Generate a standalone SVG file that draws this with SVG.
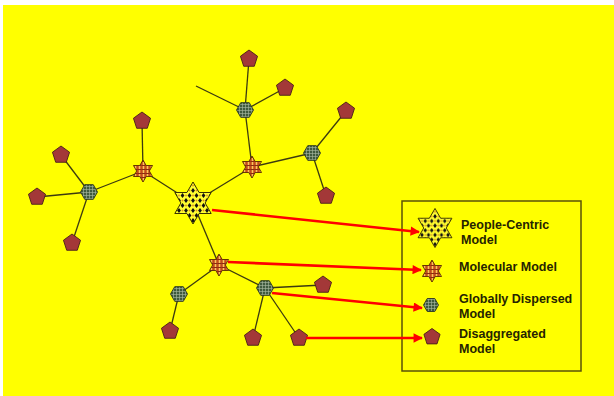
<svg xmlns="http://www.w3.org/2000/svg" xmlns:xlink="http://www.w3.org/1999/xlink" width="614" height="396" viewBox="0 0 614 396">
  <style>
    .edge { stroke: #3c3a10; stroke-width: 1.3; fill: none; }
    .ptr { stroke: #ff0000; stroke-width: 2.6; fill: none; marker-end: url(#head); }
    .people { fill: url(#diamonds); stroke: #3a3300; stroke-width: 1; }
    .mol { fill: url(#plaid); stroke: #5a2a00; stroke-width: 0.9; }
    .glob { fill: url(#grid); stroke: #2a3620; stroke-width: 0.9; }
    .dis { fill: #a33838; stroke: #4a2018; stroke-width: 0.9; }
    .lbl { font-family: "Liberation Sans", Arial, sans-serif; font-weight: bold; font-size: 12.5px; fill: #262400; }
  </style>
  <defs>
    <!-- yellow field with staggered black diamonds -->
    <pattern id="diamonds" patternUnits="userSpaceOnUse" width="7" height="10">
      <rect width="7" height="10" fill="#ffff30"/>
      <circle cx="0" cy="2.5" r="0.9" fill="#e09020"/>
      <circle cx="7" cy="2.5" r="0.9" fill="#e09020"/>
      <circle cx="3.5" cy="7.5" r="0.9" fill="#e09020"/>
      <path d="M3.5,0 L5.4,2.5 L3.5,5 L1.6,2.5 Z" fill="#111"/>
      <path d="M0,5 L1.9,7.5 L0,10 L-1.9,7.5 Z M7,5 L8.9,7.5 L7,10 L5.1,7.5 Z" fill="#111"/>
    </pattern>
    <!-- orange tartan -->
    <pattern id="plaid" patternUnits="userSpaceOnUse" width="4" height="4">
      <rect width="4" height="4" fill="#d8692a"/>
      <rect x="0" y="0" width="1" height="4" fill="#f4c860"/>
      <rect x="0" y="2" width="4" height="1" fill="#8a2a10"/>
      <rect x="2" y="0" width="1" height="4" fill="#a83a18" opacity="0.6"/>
    </pattern>
    <!-- grey-green fine grid -->
    <pattern id="grid" patternUnits="userSpaceOnUse" width="3" height="3">
      <rect width="3" height="3" fill="#3f5a3e"/>
      <rect x="0" y="0" width="3" height="0.6" fill="#aabba2"/>
      <rect x="0" y="0" width="0.6" height="3" fill="#aabba2"/>
    </pattern>
    <path id="star-l" d="M0,-21 L6.07,-10.5 L18.19,-10.5 L12.12,0 L18.19,10.5 L6.07,10.5 L0,21 L-6.07,10.5 L-18.19,10.5 L-12.12,0 L-18.19,-10.5 L-6.07,-10.5 Z"/>
    <path id="star-s" d="M0,-11 L3.18,-5.5 L9.53,-5.5 L6.35,0 L9.53,5.5 L3.18,5.5 L0,11 L-3.18,5.5 L-9.53,5.5 L-6.35,0 L-9.53,-5.5 L-3.18,-5.5 Z"/>
    <path id="hex" d="M-8.5,0 L-4.25,-7.36 L4.25,-7.36 L8.5,0 L4.25,7.36 L-4.25,7.36 Z"/>
    <path id="pent" d="M0,-9 L8.56,-2.78 L5.29,7.28 L-5.29,7.28 L-8.56,-2.78 Z"/>
    <path id="hex-k" d="M-7.5,0 L-3.75,-6.5 L3.75,-6.5 L7.5,0 L3.75,6.5 L-3.75,6.5 Z"/>
    <path id="pent-k" d="M0,-8.5 L8.08,-2.63 L5,6.88 L-5,6.88 L-8.08,-2.63 Z"/>
    <marker id="head" viewBox="0 0 10 10" refX="9" refY="5" markerWidth="4" markerHeight="3.6" orient="auto">
      <path d="M0,0 L10,5 L0,10 Z" fill="#ff0000"/>
    </marker>
  </defs>

  <rect x="3" y="5" width="611" height="391" fill="#ffff00"/>

  <g id="connectors">
    <g id="links">
      <line class="edge" x1="193" y1="203" x2="143" y2="171"/>
      <line class="edge" x1="193" y1="203" x2="252" y2="167"/>
      <line class="edge" x1="193" y1="203" x2="219" y2="265"/>
      <line class="edge" x1="143" y1="171" x2="142" y2="121"/>
      <line class="edge" x1="143" y1="171" x2="89" y2="192"/>
      <line class="edge" x1="89" y1="192" x2="61" y2="155"/>
      <line class="edge" x1="89" y1="192" x2="37" y2="197"/>
      <line class="edge" x1="89" y1="192" x2="72" y2="243"/>
      <line class="edge" x1="252" y1="167" x2="245" y2="110"/>
      <line class="edge" x1="245" y1="110" x2="249" y2="59"/>
      <line class="edge" x1="245" y1="110" x2="285" y2="88"/>
      <line class="edge" x1="245" y1="110" x2="196" y2="86"/>
      <line class="edge" x1="252" y1="167" x2="312" y2="153"/>
      <line class="edge" x1="312" y1="153" x2="346" y2="111"/>
      <line class="edge" x1="312" y1="153" x2="326" y2="196"/>
      <line class="edge" x1="219" y1="265" x2="179" y2="294"/>
      <line class="edge" x1="179" y1="294" x2="170" y2="331"/>
      <line class="edge" x1="219" y1="265" x2="265" y2="288"/>
      <line class="edge" x1="265" y1="288" x2="323" y2="285"/>
      <line class="edge" x1="265" y1="288" x2="253" y2="338"/>
      <line class="edge" x1="265" y1="288" x2="299" y2="338"/>
    </g>
  </g>

  <g id="people-centric"><use xlink:href="#star-l" class="people" transform="translate(193,203)"/></g>
  <g id="molecular-1"><use xlink:href="#star-s" class="mol" transform="translate(143,171)"/></g>
  <g id="molecular-2"><use xlink:href="#star-s" class="mol" transform="translate(252,167)"/></g>
  <g id="molecular-3"><use xlink:href="#star-s" class="mol" transform="translate(219,265)"/></g>
  <g id="dispersed-1"><use xlink:href="#hex" class="glob" transform="translate(89,192)"/></g>
  <g id="dispersed-2"><use xlink:href="#hex" class="glob" transform="translate(245,110)"/></g>
  <g id="dispersed-3"><use xlink:href="#hex" class="glob" transform="translate(312,153)"/></g>
  <g id="dispersed-4"><use xlink:href="#hex" class="glob" transform="translate(179,294)"/></g>
  <g id="dispersed-5"><use xlink:href="#hex" class="glob" transform="translate(265,288)"/></g>
  <g id="unit-1"><use xlink:href="#pent" class="dis" transform="translate(142,121)"/></g>
  <g id="unit-2"><use xlink:href="#pent" class="dis" transform="translate(61,155)"/></g>
  <g id="unit-3"><use xlink:href="#pent" class="dis" transform="translate(37,197)"/></g>
  <g id="unit-4"><use xlink:href="#pent" class="dis" transform="translate(72,243)"/></g>
  <g id="unit-5"><use xlink:href="#pent" class="dis" transform="translate(249,59)"/></g>
  <g id="unit-6"><use xlink:href="#pent" class="dis" transform="translate(285,88)"/></g>
  <g id="unit-7"><use xlink:href="#pent" class="dis" transform="translate(346,111)"/></g>
  <g id="unit-8"><use xlink:href="#pent" class="dis" transform="translate(326,196)"/></g>
  <g id="unit-9"><use xlink:href="#pent" class="dis" transform="translate(170,331)"/></g>
  <g id="unit-10"><use xlink:href="#pent" class="dis" transform="translate(253,338)"/></g>
  <g id="unit-11"><use xlink:href="#pent" class="dis" transform="translate(299,338)"/></g>
  <g id="unit-12"><use xlink:href="#pent" class="dis" transform="translate(323,285)"/></g>

  <g id="legend">
    <rect x="402" y="201" width="179" height="170" fill="none" stroke="#5a5208" stroke-width="1.5"/>
    <use xlink:href="#star-l" class="people" transform="translate(435,228) scale(0.93)"/>
    <text class="lbl" x="461" y="229">People-Centric</text>
    <text class="lbl" x="461" y="244">Model</text>
    <use xlink:href="#star-s" class="mol" transform="translate(432,271)"/>
    <text class="lbl" x="459" y="271">Molecular Model</text>
    <use xlink:href="#hex-k" class="glob" transform="translate(431,305)"/>
    <text class="lbl" x="459" y="303">Globally Dispersed</text>
    <text class="lbl" x="459" y="318">Model</text>
    <use xlink:href="#pent-k" class="dis" transform="translate(432,337)"/>
    <text class="lbl" x="459" y="338">Disaggregated</text>
    <text class="lbl" x="459" y="353">Model</text>
  </g>

  <g id="pointers">
    <line class="ptr" x1="212" y1="210" x2="419" y2="232"/>
    <line class="ptr" x1="228" y1="262" x2="421" y2="270"/>
    <line class="ptr" x1="272" y1="293" x2="422" y2="308"/>
    <line class="ptr" x1="306" y1="338" x2="422" y2="338"/>
  </g>
</svg>
